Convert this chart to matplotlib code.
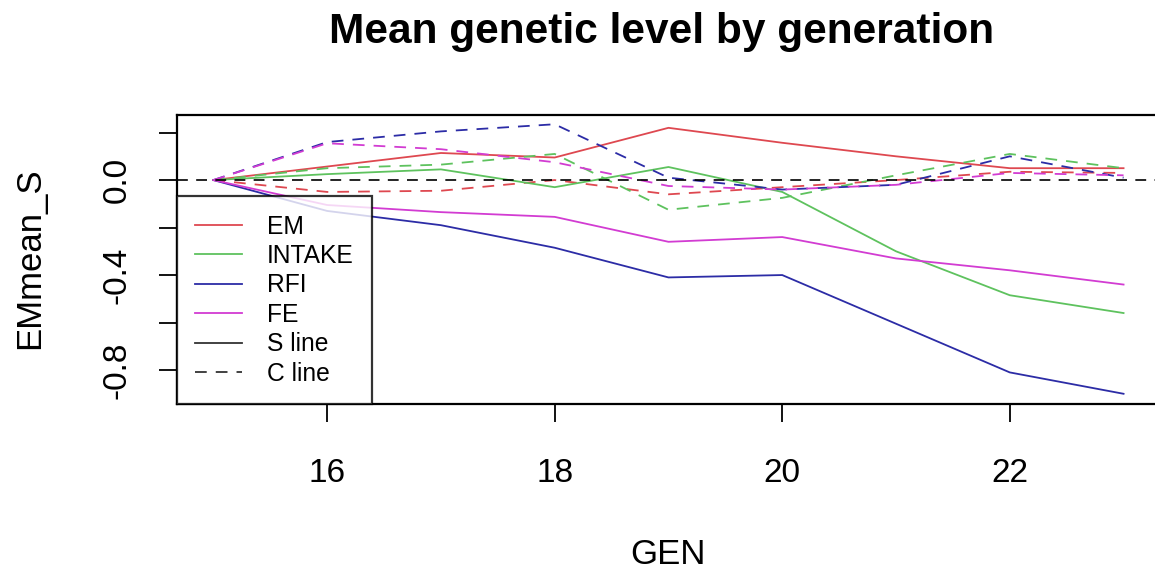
import numpy as np
import matplotlib
matplotlib.use("Agg")
import matplotlib.pyplot as plt
from matplotlib.lines import Line2D

plt.rcParams['font.family'] = ['Liberation Sans', 'DejaVu Sans']

gen = [15, 16, 17, 18, 19, 20, 21, 22, 23]

# S lines (solid)
em_s = [0.0, 0.057, 0.114, 0.095, 0.22, 0.157, 0.10, 0.05, 0.05]
intake_s = [0.0, 0.025, 0.045, -0.03, 0.055, -0.05, -0.30, -0.485, -0.56]
rfi_s = [0.0, -0.13, -0.19, -0.285, -0.41, -0.40, -0.605, -0.81, -0.90]
fe_s = [0.0, -0.105, -0.135, -0.155, -0.26, -0.24, -0.33, -0.38, -0.44]

# C lines (dashed)
em_c = [0.0, -0.05, -0.045, 0.0, -0.06, -0.03, 0.0, 0.035, 0.03]
intake_c = [0.0, 0.05, 0.065, 0.11, -0.125, -0.075, 0.02, 0.11, 0.05]
rfi_c = [0.0, 0.16, 0.205, 0.235, 0.01, -0.04, -0.02, 0.10, 0.01]
fe_c = [0.0, 0.155, 0.13, 0.075, -0.025, -0.04, -0.02, 0.03, 0.02]

names = ['EM', 'INTAKE', 'RFI', 'FE']
colors = ['#DE4850', '#5EC25E', '#2C2CA6', '#D23CD2']

yticks = [-0.8, -0.6, -0.4, -0.2, 0.0, 0.2]
ytick_labels = ['-0.8', '', '-0.4', '', '0.0', '']
xticks = [16, 18, 20, 22]

fig = plt.figure(figsize=(11.55, 5.75), dpi=100, facecolor='white')
ax = fig.add_axes([0.1532, 0.2974, 0.8511, 0.5026])

dash = (0, (6.5, 5))
lw = 1.3
for s, c, col in zip([em_s, intake_s, rfi_s, fe_s], [em_c, intake_c, rfi_c, fe_c], colors):
    ax.plot(gen, s, color=col, lw=lw)
    ax.plot(gen, c, color=col, lw=lw, linestyle=dash)

ax.axhline(0, color='black', lw=1.2, linestyle=dash)

ax.set_xlim(14.68, 23.32)
ax.set_ylim(-0.943, 0.274)
ax.set_xticks(xticks)
ax.set_xticklabels([str(x) for x in xticks])
ax.set_yticks(yticks)
ax.set_yticklabels(ytick_labels, rotation=90, va='center')

ax.tick_params(axis='both', direction='out', length=13, width=1.3, labelsize=24, colors='black')
ax.tick_params(axis='x', pad=26)
ax.tick_params(axis='y', pad=19)
for sp in ax.spines.values():
    sp.set_linewidth(1.6)

# title and axis labels placed like R's margins
fig.text(0.573, 0.944, 'Mean genetic level by generation', fontsize=30.5,
         fontweight='bold', ha='center', va='center')
fig.text(0.578, 0.035, 'GEN', fontsize=25, ha='center', va='center')
fig.text(0.026, 0.551, 'EMmean_S', fontsize=25, rotation=90, ha='center', va='center')

handles = [Line2D([], [], color=col, lw=lw) for col in colors]
handles.append(Line2D([], [], color='#333333', lw=lw))
handles.append(Line2D([], [], color='#333333', lw=lw, linestyle=dash))
leg = ax.legend(handles, names + ['S line', 'C line'], loc='lower left',
                bbox_to_anchor=(0, 0), borderaxespad=0, fontsize=17.7,
                frameon=True, fancybox=False, handlelength=1.9, handletextpad=1.0,
                labelspacing=0.22, borderpad=0.75)
leg.get_frame().set_edgecolor('black')
leg.get_frame().set_linewidth(1.6)

fig.savefig('out.png', dpi=100)
